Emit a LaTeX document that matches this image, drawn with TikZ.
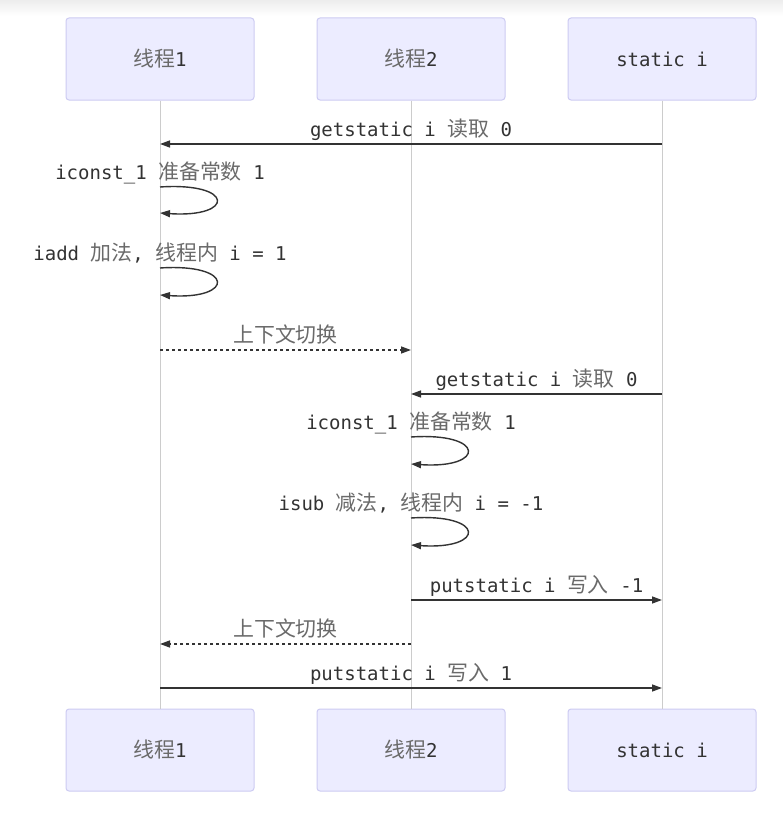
\documentclass[tikz,border=0pt]{standalone}
\usepackage{fontspec}
\usepackage{xcolor}
\usetikzlibrary{positioning,arrows.meta}
\setmonofont{DejaVu Sans Mono}
\newfontfamily\cjkfont[Scale=1.1]{Noto Sans CJK SC}
\definecolor{sqink}{HTML}{333333}
\definecolor{sqzh}{HTML}{6A6A6A}
\definecolor{sqfill}{HTML}{ECECFF}
\definecolor{sqedge}{HTML}{CDCBF2}
\definecolor{sqlife}{HTML}{CCCCCC}
\newcommand{\zh}[1]{{\cjkfont\color{sqzh}#1}}
\tikzset{
  actor/.style={draw=sqedge,fill=sqfill,line width=1pt,rounded corners=3pt,minimum width=188pt,minimum height=82pt,font=\ttfamily\fontsize{19}{22}\selectfont,text=sqink},
  life/.style={draw=sqlife,line width=1pt},
  msg/.style={-{Triangle[length=10pt,width=7pt]},line width=1.4pt,draw=sqink},
  ctx/.style={msg,dash pattern=on 3pt off 3pt},
  lbl/.style={font=\ttfamily\fontsize{19}{22}\selectfont,text=sqink,inner sep=0pt,anchor=base,yshift=8pt},
}

\begin{document}
\begin{tikzpicture}[x=1pt,y=-1pt]
  \useasboundingbox (0,0) rectangle (783,816);
  \fill[white] (0,0) rectangle (783,816);
  \shade[top color=black!7,bottom color=white] (0,0) rectangle (783,16);
  % participants
  \node[actor] (t1top) at (160,59) {\zh{线程}1};
  \node[actor,right=62pt of t1top] (t2top) {\zh{线程}2};
  \node[actor,right=62pt of t2top] (sitop) {static i};
  \node[actor,below=608pt of t1top] (t1bot) {\zh{线程}1};
  \node[actor,below=608pt of t2top] (t2bot) {\zh{线程}2};
  \node[actor,below=608pt of sitop] (sibot) {static i};
  \draw[life] (t1top) -- (t1bot);
  \draw[life] (t2top) -- (t2bot);
  \draw[life] (sitop) -- (sibot);
  % rows
  \coordinate (r1) at (0,144);
  \coordinate (r2) at (0,187);
  \coordinate (r3) at (0,268);
  \coordinate (r4) at (0,350);
  \coordinate (r5) at (0,394);
  \coordinate (r6) at (0,437);
  \coordinate (r7) at (0,518);
  \coordinate (r8) at (0,600);
  \coordinate (r9) at (0,644);
  \coordinate (r10) at (0,688);
  % thread 1
  \draw[msg] (sitop |- r1) -- (t1top |- r1) node[lbl,midway] {getstatic i \zh{读取} 0};
  \draw[msg] (t1top |- r2) node[lbl] {iconst\_1 \zh{准备常数} 1}
    .. controls +(75,-5) and +(75,5) .. ([yshift=-26pt]t1top |- r2);
  \draw[msg] (t1top |- r3) node[lbl] {iadd \zh{加法}, \zh{线程内} i = 1}
    .. controls +(75,-5) and +(75,5) .. ([yshift=-27pt]t1top |- r3);
  \draw[ctx] (t1top |- r4) -- (t2top |- r4) node[lbl,midway] {\zh{上下文切换}};
  % thread 2
  \draw[msg] (sitop |- r5) -- (t2top |- r5) node[lbl,midway] {getstatic i \zh{读取} 0};
  \draw[msg] (t2top |- r6) node[lbl] {iconst\_1 \zh{准备常数} 1}
    .. controls +(75,-5) and +(75,5) .. ([yshift=-27pt]t2top |- r6);
  \draw[msg] (t2top |- r7) node[lbl] {isub \zh{减法}, \zh{线程内} i = -1}
    .. controls +(75,-5) and +(75,5) .. ([yshift=-27pt]t2top |- r7);
  \draw[msg] (t2top |- r8) -- (sitop |- r8) node[lbl,midway] {putstatic i \zh{写入} -1};
  \draw[ctx] (t2top |- r9) -- (t1top |- r9) node[lbl,midway] {\zh{上下文切换}};
  \draw[msg] (t1top |- r10) -- (sitop |- r10) node[lbl,midway] {putstatic i \zh{写入} 1};
\end{tikzpicture}
\end{document}
